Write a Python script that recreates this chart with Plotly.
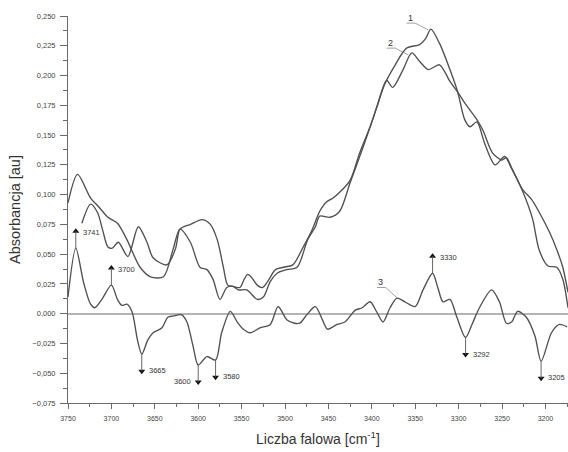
import numpy as np
import plotly.graph_objects as go

# ---------------- data (wavenumber [cm-1], absorbance [au]) ----------------
wn1 = [3750, 3739, 3724, 3715, 3704, 3693, 3682, 3667, 3655, 3640, 3629, 3621,
       3609, 3598, 3590, 3583, 3575, 3567, 3560, 3554, 3544, 3532, 3525, 3517,
       3509, 3498, 3486, 3474, 3465, 3460, 3448, 3437, 3425, 3410, 3399, 3385,
       3373, 3360, 3345, 3338, 3332, 3322, 3310, 3301, 3293, 3287, 3279, 3270,
       3258, 3247, 3239, 3227, 3215, 3207, 3197, 3187, 3180, 3174]
ab1 = [0.093, 0.117, 0.097, 0.090, 0.081, 0.076, 0.062, 0.039, 0.031, 0.031, 0.054, 0.071,
       0.060, 0.039, 0.037, 0.029, 0.012, 0.022, 0.023, 0.020, 0.020, 0.012, 0.014, 0.027,
       0.034, 0.037, 0.039, 0.062, 0.073, 0.082, 0.081, 0.086, 0.110, 0.140, 0.163, 0.193,
       0.209, 0.223, 0.226, 0.231, 0.239, 0.227, 0.205, 0.186, 0.163, 0.157, 0.161, 0.143,
       0.125, 0.132, 0.122, 0.104, 0.080, 0.053, 0.040, 0.039, 0.029, 0.005]

wn2 = [3734, 3724, 3716, 3710, 3704, 3699, 3692, 3681, 3669, 3659, 3652, 3636,
       3626, 3621, 3609, 3595, 3586, 3578, 3571, 3566, 3560, 3552, 3547, 3543, 3538,
       3532, 3526, 3520, 3511, 3502, 3491, 3479, 3469, 3460, 3452, 3445, 3437, 3425,
       3414, 3402, 3394, 3383, 3376, 3364, 3354, 3345, 3335, 3322, 3310, 3301,
       3293, 3287, 3279, 3272, 3261, 3250, 3245, 3238, 3226, 3216, 3207, 3195,
       3187, 3180, 3174]
ab2 = [0.076, 0.092, 0.085, 0.070, 0.056, 0.055, 0.060, 0.048, 0.073, 0.060, 0.047, 0.041,
       0.055, 0.071, 0.075, 0.079, 0.075, 0.062, 0.039, 0.024, 0.023, 0.022, 0.029, 0.033, 0.030,
       0.024, 0.022, 0.027, 0.037, 0.039, 0.041, 0.056, 0.070, 0.086, 0.094, 0.097, 0.102, 0.112,
       0.135, 0.157, 0.174, 0.196, 0.190, 0.205, 0.219, 0.212, 0.205, 0.209, 0.195, 0.186,
       0.177, 0.171, 0.163, 0.154, 0.135, 0.129, 0.131, 0.121, 0.104, 0.096, 0.085, 0.068,
       0.054, 0.039, 0.018]

wn3 = [3750, 3741, 3732, 3724, 3719, 3711, 3700, 3693, 3688, 3682, 3676, 3670,
       3665, 3658, 3652, 3642, 3635, 3629, 3619, 3613, 3606, 3600, 3590, 3580,
       3573, 3563, 3555, 3548, 3540, 3529, 3517, 3508, 3498, 3489, 3483, 3475,
       3465, 3457, 3451, 3440, 3431, 3419, 3411, 3402, 3394, 3387, 3379, 3371,
       3362, 3350, 3341, 3330, 3324, 3318, 3310, 3302, 3292, 3284, 3276, 3262,
       3253, 3245, 3239, 3232, 3222, 3212, 3205, 3193, 3184, 3175]
ab3 = [0.014, 0.055, 0.026, 0.008, 0.005, 0.012, 0.024, 0.012, 0.007, 0.008, 0.001, -0.022,
       -0.034, -0.022, -0.016, -0.012, -0.003, -0.002, -0.001, -0.007, -0.027, -0.043, -0.036, -0.039,
       -0.016, 0.002, -0.007, -0.013, -0.016, -0.012, -0.009, 0.006, -0.005, -0.008, -0.008, -0.001,
       0.006, -0.005, -0.013, -0.009, -0.007, 0.003, 0.005, 0.010, 0.001, -0.007, 0.005, 0.013,
       0.010, 0.006, 0.020, 0.034, 0.022, 0.010, 0.012, -0.003, -0.020, -0.008, 0.005, 0.020,
       0.010, -0.008, -0.007, 0.002, -0.003, -0.019, -0.040, -0.016, -0.009, -0.011]

peak_wn = [3741, 3700, 3665, 3600, 3580, 3330, 3292, 3205]
peak_dir = [1, 1, -1, -1, -1, 1, -1, -1]
peak_side = ["right", "right", "right", "left", "right", "right", "right", "right"]

x_ticks = [3750, 3700, 3650, 3600, 3550, 3500, 3450, 3400, 3350, 3300, 3250, 3200]
y_ticks = [-0.075, -0.050, -0.025, 0.000, 0.025, 0.050, 0.075, 0.100,
           0.125, 0.150, 0.175, 0.200, 0.225, 0.250]

# curve labels: (text, text_wn, text_ab, target_wn, target_ab)
curve_labels = [("1", 3356, 0.2485, 3335, 0.2383),
                ("2", 3379, 0.2275, 3358, 0.2173),
                ("3", 3390, 0.0265, 3371, 0.0134)]

LINE = "#505050"
AX = "#6a6a6a"
FONT = "Liberation Sans, Arial, sans-serif"

fig = go.Figure()
for wn, ab in [(wn1, ab1), (wn2, ab2), (wn3, ab3)]:
    fig.add_trace(go.Scatter(x=wn, y=ab, mode="lines",
                             line=dict(color=LINE, width=1.35, shape="spline", smoothing=0.8),
                             showlegend=False, hoverinfo="skip"))

# peak arrows (shaft shape + triangle head marker) and labels
xs = np.array(wn3[::-1], dtype=float)
ys = np.array(ab3[::-1], dtype=float)
head_x, head_y, head_sym = [], [], []
for w, d, side in zip(peak_wn, peak_dir, peak_side):
    base = float(np.interp(w, xs, ys))
    tip = base + d * 0.0165
    fig.add_shape(type="line", xref="x", yref="y", x0=w, x1=w, y0=base, y1=tip - d * 0.002,
                  line=dict(color="#555", width=0.9))
    head_x.append(w)
    head_y.append(tip - d * 0.0022)
    head_sym.append("triangle-up" if d > 0 else "triangle-down")
    fig.add_annotation(x=w, y=tip, xref="x", yref="y", text=str(w), showarrow=False,
                       xanchor="left" if side == "right" else "right",
                       xshift=5 if side == "right" else -5,
                       yshift=-4 if d > 0 else 3,
                       font=dict(family=FONT, size=7.5, color="#333"))
fig.add_trace(go.Scatter(x=head_x, y=head_y, mode="markers",
                         marker=dict(symbol=head_sym, size=6, color="#111",
                                     line=dict(width=0)),
                         showlegend=False, hoverinfo="skip"))

# curve number labels with leader lines
for txt, tw, ta, gw, ga in curve_labels:
    fig.add_annotation(x=tw, y=ta, xref="x", yref="y", text=txt, showarrow=False,
                       font=dict(family=FONT, size=9, color="#333"))
    uw0, uw1 = tw + 4, tw - 6
    uy = ta - 0.0045
    fig.add_shape(type="path", xref="x", yref="y",
                  path=f"M {uw0},{uy} L {uw1},{uy} L {gw},{ga}",
                  line=dict(color="#888", width=0.8))

fig.update_xaxes(range=[3750, 3174], autorange=False, tickvals=x_ticks,
                 ticks="outside", ticklen=5, tickwidth=1, tickcolor=AX,
                 minor=dict(dtick=25, tick0=3750, ticks="outside", ticklen=3, tickcolor=AX),
                 showline=True, linecolor=AX, linewidth=1, showgrid=False, zeroline=False,
                 ticklabelstandoff=4,
                 tickfont=dict(family=FONT, size=7, color="#444"),
                 title=dict(text="Liczba falowa [cm<sup>-1</sup>]", standoff=12,
                            font=dict(family=FONT, size=14, color="#333")))
fig.update_yaxes(range=[-0.075, 0.250], autorange=False, tickvals=y_ticks, tickformat=".3f",
                 ticks="outside", ticklen=7, tickwidth=1, tickcolor=AX,
                 minor=dict(dtick=0.0125, tick0=0, ticks="outside", ticklen=4, tickcolor=AX),
                 showline=True, linecolor=AX, linewidth=1, showgrid=False,
                 zeroline=True, zerolinecolor="#b4b4b4", zerolinewidth=2,
                 ticklabelstandoff=3,
                 tickfont=dict(family=FONT, size=7.5, color="#444"),
                 title=dict(text="Absorbancja [au]", standoff=8,
                            font=dict(family=FONT, size=14.5, color="#333")))

fig.update_layout(width=568, height=452, margin=dict(l=68, r=0, t=16, b=49),
                  paper_bgcolor="white", plot_bgcolor="white", separators=", ",
                  font=dict(family=FONT))

fig.write_html("out.html")
